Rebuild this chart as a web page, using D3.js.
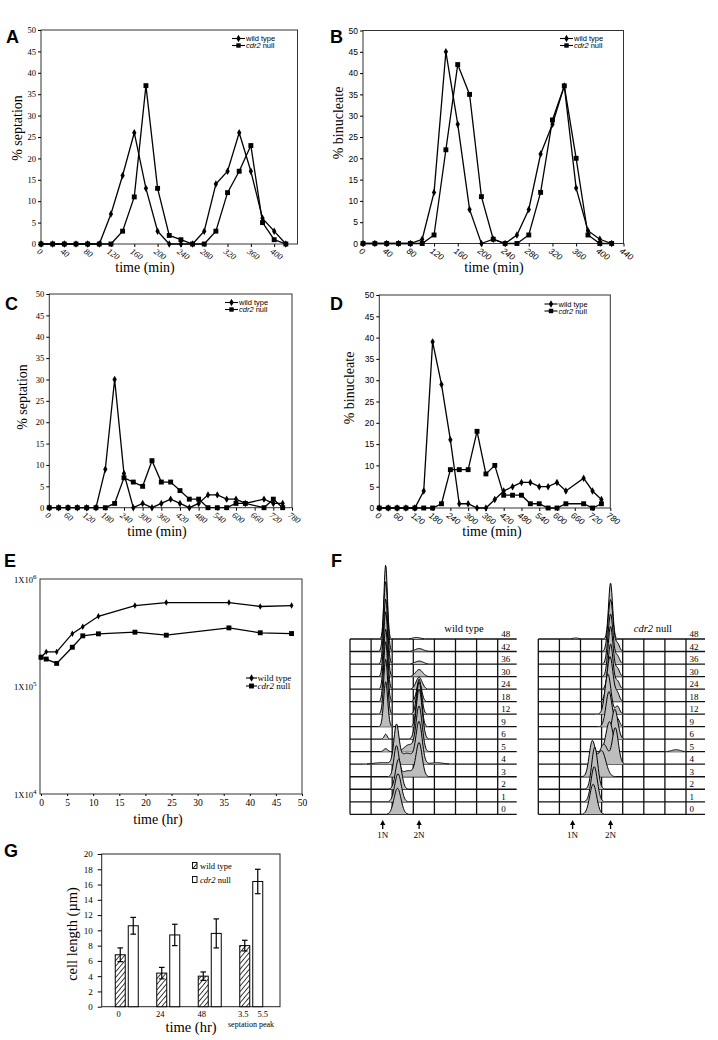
<!DOCTYPE html>
<html><head><meta charset="utf-8">
<script src="https://cdn.jsdelivr.net/npm/d3@7"></script>
<style>body{margin:0;background:#fff}svg{display:block}</style>
</head><body>
<svg id="c" width="718" height="1040"></svg>
<script>
// ---------------- DATA ----------------
const timeAB = [0,20,40,60,80,100,120,140,160,180,200,220,240,260,280,300,320,340,360,380,400,420];
const septA_wt  = [0,0,0,0,0,0,7,16,26,13,3,0,0,0,3,14,17,26,17,6,3,0];
const septA_cdr = [0,0,0,0,0,0,0,3,11,37,13,2,1,0,0,3,12,17,23,5,1,0];
const binB_wt   = [0,0,0,0,0,1,12,45,28,8,0,1,0,2,8,21,28,37,13,3,1,0];
const binB_cdr  = [0,0,0,0,0,0,2,22,42,35,11,1,0,0,2,12,29,37,20,2,0,0];
const ticksA = [0,40,80,120,160,200,240,280,320,360,400];
const ticksB = [0,40,80,120,160,200,240,280,320,360,400,440];

const timeCD = [0,30,60,90,120,150,180,210,240,270,300,330,360,390,420,450,480,510,540,570,600,630,690,720,750];
const septC_wt  = [0,0,0,0,0,0,9,30,8,0,1,0,1,2,1,0,1,3,3,2,2,1,2,1,1];
const septC_cdr = [0,0,0,0,0,0,0,1,7,6,5,11,6,6,4,2,2,0,0,0,1,1,0,2,0];
const binD_wt   = [0,0,0,0,0,4,39,29,16,1,1,0,0,2,4,5,6,6,5,5,6,4,7,4,2];
const binD_cdr  = [0,0,0,0,0,0,0,1,9,9,9,18,8,10,3,3,3,1,1,0,0,1,1,0,1];
const ticksCD = [0,60,120,180,240,300,360,420,480,540,600,660,720,780];
const pctTicks = [0,5,10,15,20,25,30,35,40,45,50];

const timeE = [0,1,3,6,8,11,18,24,36,42,48];
const cellsE_wt  = [1.87e5,2.1e5,2.1e5,3.1e5,3.6e5,4.5e5,5.66e5,6.04e5,6.04e5,5.55e5,5.66e5];
const cellsE_cdr = [1.87e5,1.8e5,1.64e5,2.32e5,2.96e5,3.09e5,3.2e5,3.0e5,3.51e5,3.16e5,3.11e5];
const ticksE_x = [0,5,10,15,20,25,30,35,40,45,50];
const ticksE_y = [1e4,1e5,1e6];

// F: flow cytometry rows (bottom to top); peaks = [channel, counts, spread]
const fRowLabels = ["0","1","2","3","4","5","6","9","12","18","24","30","36","42","48"];
const fWildPeaks = [
  [[90,26,6.6]],
  [[91,28,6.1]],
  [[92,30,5.7]],
  [[88,30,4.7],[131,33,5.7],[110,6,12]],
  [[88,36,4.7],[131,40,5.7],[108,11,14],[60,1.5,15],[165,1.5,12]],
  [[67.6,3,3.8],[131,45,5.7],[112,7,9]],
  [[67.6,5,2.8],[131,50,5.7]],
  [[67.6,45,3.8],[131,45,4.7]],
  [[67.6,55,3.8],[131,35,4.7]],
  [[67.6,60,3.8],[131,20,4.7]],
  [[67.6,60,3.8],[131,12,5.7]],
  [[67.6,65,3.8],[131,7,6.6]],
  [[67.6,65,3.8],[131,3,7.6]],
  [[67.6,70,3.8],[131,3,7.6]],
  [[67.6,74,3.2],[126,1.5,7.6]]
];
const fNullPeaks = [
  [[104,30,6.6]],
  [[106,35,6]],
  [[107,42,5.7]],
  [[102,34,5.7],[120,26,8]],
  [[124,20,8],[146,36,5.7]],
  [[135,30,6.6],[261,2,8]],
  [[145,30,5.7]],
  [[134,35,5.7],[150,8,4]],
  [[132,40,5.7],[150,8,4]],
  [[136,45,5.7],[150,8,4]],
  [[137,45,4.7],[150,8,4]],
  [[137,50,4.7],[150,8,4]],
  [[137,50,4.7],[150,8,4]],
  [[137,52,4.7],[150,8,4]],
  [[137,56,3.8],[71,1,6]]
];
const fWildMarks = [["1N",62],["2N",131]];
const fNullMarks = [["1N",65],["2N",137]];

// G: cell length
const gCats = ["0","24","48","peak"];
const gWt = [6.8,4.4,4.0,8.0];
const gWtErr = [0.9,0.75,0.55,0.7];
const gCdr = [10.6,9.4,9.6,16.4];
const gCdrErr = [1.1,1.4,1.9,1.6];
const gWtLabels = ["0","24","48","3.5"];
const gCdrLabels = ["","","","5.5"];
const gTicks = [0,2,4,6,8,10,12,14,16,18,20];

// ---------------- DRAW ----------------
const SERIF = "'Liberation Serif','Times New Roman',serif";
const SANS = "'Liberation Sans',Arial,sans-serif";
const svg = d3.select('#c');
svg.append('rect').attr('width',718).attr('height',1040).attr('fill','#fff');

function letter(t,x,y){
  svg.append('text').attr('x',x).attr('y',y).text(t)
    .style('font-family',SANS).style('font-weight','bold').style('font-size','18px');
}
letter('A',6,43); letter('B',330,43); letter('C',5,310); letter('D',330,310);
letter('E',4,567); letter('F',331,567); letter('G',4,857);

const diamond = d3.symbol().type(d3.symbolDiamond).size(16)();
const square = d3.symbol().type(d3.symbolSquare).size(24)();

function legendAD(g,lx,ly,font){
  const rows=[{m:diamond,t:'wild type',it:false},{m:square,t:'null',it:true}];
  rows.forEach((r,i)=>{
    const yy=ly+i*7;
    g.append('line').attr('x1',lx).attr('x2',lx+13).attr('y1',yy).attr('y2',yy).attr('stroke','#000').attr('stroke-width',1.1);
    g.append('path').attr('d',r.m).attr('transform',`translate(${lx+6.5},${yy})${i==0?'':' scale(0.9)'}`);
    const t=g.append('text').attr('x',lx+14).attr('y',yy+2.6).style('font-family',font).style('font-size','7.5px');
    if(r.it){t.append('tspan').style('font-style','italic').text('cdr2');t.append('tspan').text(' null');}
    else t.text(r.t);
  });
}

function linePanel(o){
  const g=svg.append('g');
  const x=d3.scaleLinear().domain([0,o.xmax]).range([o.x0,o.x1]);
  const y=d3.scaleLinear().domain([0,50]).range([o.y1,o.y0]);
  g.append('rect').attr('x',o.x0).attr('y',o.y0).attr('width',o.x1-o.x0).attr('height',o.y1-o.y0)
    .attr('fill','none').attr('stroke','#333').attr('stroke-width',1);
  const ya=g.append('g').attr('transform',`translate(${o.x0},0)`)
    .call(d3.axisLeft(y).tickValues(pctTicks).tickSize(3).tickPadding(2));
  ya.select('.domain').remove();
  ya.selectAll('text').style('font-family',o.tickFont).style('font-size','8.5px');
  const xa=g.append('g').attr('transform',`translate(0,${o.y1})`)
    .call(d3.axisBottom(x).tickValues(o.xticks).tickSize(3));
  xa.select('.domain').remove();
  xa.selectAll('text').attr('x',1).attr('y',4).attr('dy','0.71em')
    .attr('transform','rotate(35)').style('text-anchor','start')
    .style('font-family',o.tickFont).style('font-size','8.5px').style('font-style','italic');
  const series=[{v:o.wt,m:diamond},{v:o.cdr,m:square}];
  series.forEach(s=>{
    const pts=o.times.map((t,i)=>[t,s.v[i]]);
    g.append('path').attr('d',d3.line().x(d=>x(d[0])).y(d=>y(d[1]))(pts))
      .attr('fill','none').attr('stroke','#000').attr('stroke-width',1.3);
    g.selectAll(null).data(pts).enter().append('path').attr('d',s.m)
      .attr('transform',d=>`translate(${x(d[0])},${y(d[1])})`).attr('fill','#000');
  });
  legendAD(g,o.legX,o.legY,SANS);
  g.append('text').attr('transform',`translate(${o.ylx},${o.yly}) rotate(-90)`).attr('dy','0.35em')
    .attr('text-anchor','middle').text(o.ylabel).style('font-family',SERIF).style('font-size','14px');
  g.append('text').attr('x',o.xlx).attr('y',o.xly).attr('text-anchor','middle').text('time (min)')
    .style('font-family',SERIF).style('font-size','14px');
}

linePanel({x0:41,x1:297.5,y0:30,y1:244,xmax:440,xticks:ticksA,times:timeAB,wt:septA_wt,cdr:septA_cdr,
  tickFont:SERIF,legX:232,legY:38.5,ylabel:'% septation',ylx:17.5,yly:128,xlx:145,xly:272});
linePanel({x0:363,x1:623.5,y0:30.5,y1:243.5,xmax:440,xticks:ticksB,times:timeAB,wt:binB_wt,cdr:binB_cdr,
  tickFont:SANS,legX:560,legY:38.5,ylabel:'% binucleate',ylx:338,yly:123,xlx:494,xly:272});
linePanel({x0:49.3,x1:292,y0:294,y1:507.7,xmax:780,xticks:ticksCD,times:timeCD,wt:septC_wt,cdr:septC_cdr,
  tickFont:SERIF,legX:225,legY:302.5,ylabel:'% septation',ylx:22.5,yly:397,xlx:157,xly:536});
linePanel({x0:379.3,x1:610.3,y0:295,y1:508,xmax:780,xticks:ticksCD,times:timeCD,wt:binD_wt,cdr:binD_cdr,
  tickFont:SANS,legX:544.5,legY:304,ylabel:'% binucleate',ylx:349,yly:388,xlx:492,xly:536});

// ---- E ----
(function(){
  const g=svg.append('g');
  const x=d3.scaleLinear().domain([0,50]).range([41,302]);
  const y=d3.scaleLog().domain([1e4,1e6]).range([794,579]);
  g.append('rect').attr('x',40).attr('y',579).attr('width',262).attr('height',215)
    .attr('fill','none').attr('stroke','#333').attr('stroke-width',1);
  const xa=g.append('g').attr('transform','translate(0,794)').call(d3.axisBottom(x).tickValues(ticksE_x).tickSize(2).tickPadding(3));
  xa.select('.domain').remove();
  xa.selectAll('text').style('font-family',SERIF).style('font-size','9.5px');
  ticksE_y.forEach(v=>{
    const t=g.append('text').attr('x',36.5).attr('y',y(v)+3.5).attr('text-anchor','end')
      .style('font-family',SERIF).style('font-size','8.5px');
    t.append('tspan').text('1X10');
    t.append('tspan').attr('dy',-4).style('font-size','7px').text(String(Math.round(Math.log10(v))));
  });
  [{v:cellsE_wt,m:d3.symbol().type(d3.symbolDiamond).size(12)()},{v:cellsE_cdr,m:square}].forEach(s=>{
    const pts=timeE.map((t,i)=>[t,s.v[i]]);
    g.append('path').attr('d',d3.line().x(d=>x(d[0])).y(d=>y(d[1]))(pts))
      .attr('fill','none').attr('stroke','#000').attr('stroke-width',1.3);
    g.selectAll(null).data(pts).enter().append('path').attr('d',s.m)
      .attr('transform',d=>`translate(${x(d[0])},${y(d[1])})`);
  });
  const lx=246, ly=678;
  [{m:diamond,it:false},{m:square,it:true}].forEach((r,i)=>{
    const yy=ly+i*8;
    g.append('line').attr('x1',lx).attr('x2',lx+11).attr('y1',yy).attr('y2',yy).attr('stroke','#000').attr('stroke-width',1.1);
    g.append('path').attr('d',r.m).attr('transform',`translate(${lx+5.5},${yy})`);
    const t=g.append('text').attr('x',lx+11.5).attr('y',yy+3).style('font-family',SERIF).style('font-size','9px');
    if(r.it){t.append('tspan').style('font-style','italic').text('cdr2');t.append('tspan').text(' null');}
    else t.text('wild type');
  });
  g.append('text').attr('x',158).attr('y',824).attr('text-anchor','middle').text('time (hr)')
    .style('font-family',SERIF).style('font-size','14px');
})();

// ---- F ----
function flowPanel(x0,peaks,marks,title,italicPart){
  const g=svg.append('g');
  const colW=21.1, nCol=7, top=639, bottom=814.3;
  const xc=d3.scaleLinear().domain([0,280]).range([x0,x0+nCol*colW]);
  const rowY=d3.scaleLinear().domain([0,fRowLabels.length-1]).range([bottom,top]);
  const hY=d3.scaleLinear().domain([0,100]).range([0,100]);
  const right=x0+nCol*colW+19;
  for(let i=0;i<=nCol;i++){
    g.append('line').attr('x1',xc(i*40)).attr('x2',xc(i*40)).attr('y1',top).attr('y2',bottom)
      .attr('stroke','#111').attr('stroke-width',1.3);
  }
  fRowLabels.forEach((lab,i)=>{
    const yy=rowY(i);
    g.append('line').attr('x1',x0).attr('x2',right).attr('y1',yy).attr('y2',yy)
      .attr('stroke','#111').attr('stroke-width',1.3);
    g.append('text').attr('x',xc(280)+3.5).attr('y',yy-2).text(lab)
      .style('font-family',SERIF).style('font-size','9px');
  });
  const samples=d3.range(x0,x0+nCol*colW,0.5);
  for(let i=peaks.length-1;i>=0;i--){
    const base=rowY(i);
    const prof=samples.map(px=>{
      const ch=xc.invert(px);
      let v=0; peaks[i].forEach(p=>{v+=p[1]*Math.exp(-0.5*Math.pow((ch-p[0])/p[2],2));});
      return [px,v];
    });
    g.append('path').attr('d',d3.area().x(d=>d[0]).y0(base).y1(d=>base-hY(d[1]))(prof))
      .attr('fill','#bdbdbd').attr('stroke','none');
    g.append('path').attr('d',d3.line().defined(d=>d[1]>0.25).x(d=>d[0]).y(d=>base-hY(d[1]))(prof))
      .attr('fill','none').attr('stroke','#000').attr('stroke-width',1);
  }
  marks.forEach(m=>{
    const ax=xc(m[1]);
    g.append('path').attr('d',`M${ax},820 L${ax-2.6},825 L${ax+2.6},825 Z`).attr('fill','#000');
    g.append('line').attr('x1',ax).attr('x2',ax).attr('y1',824).attr('y2',829).attr('stroke','#000').attr('stroke-width',1.3);
    g.append('text').attr('x',ax).attr('y',837.5).attr('text-anchor','middle').text(m[0])
      .style('font-family',SERIF).style('font-size','9px');
  });
  const t=g.append('text').attr('x',x0+nCol*colW-14).attr('y',632).attr('text-anchor','end')
    .style('font-family',SERIF).style('font-size','10.5px');
  if(italicPart){t.append('tspan').style('font-style','italic').text(italicPart);t.append('tspan').text(title);}
  else t.text(title);
}
flowPanel(350,fWildPeaks,fWildMarks,'wild type',null);
flowPanel(538.3,fNullPeaks,fNullMarks,' null','cdr2');

// ---- G ----
(function(){
  const g=svg.append('g');
  const defs=svg.append('defs');
  const pat=defs.append('pattern').attr('id','hatch').attr('patternUnits','userSpaceOnUse')
    .attr('width',3.6).attr('height',3.6).attr('patternTransform','rotate(40)');
  pat.append('rect').attr('width',3.6).attr('height',3.6).attr('fill','#fff');
  pat.append('line').attr('x1',0).attr('x2',0).attr('y1',0).attr('y2',3.6).attr('stroke','#000').attr('stroke-width',1.5);
  const y=d3.scaleLinear().domain([0,20]).range([1006.7,854]);
  const xb=d3.scaleBand().domain(gCats).range([106,272]);
  const xi=d3.scaleBand().domain(['wt','cdr']).range([-11.5,11.5]).paddingInner(0.2308);
  g.append('rect').attr('x',101.7).attr('y',854).attr('width',178.3).attr('height',152.7)
    .attr('fill','none').attr('stroke','#222').attr('stroke-width',1);
  const ya=g.append('g').attr('transform','translate(101.7,0)').call(d3.axisLeft(y).tickValues(gTicks).tickSize(4).tickPadding(5));
  ya.select('.domain').remove();
  ya.selectAll('text').style('font-family',SERIF).style('font-size','9px');
  const series=[{k:'wt',v:gWt,e:gWtErr,fill:'url(#hatch)',lab:gWtLabels,off:-1.5},{k:'cdr',v:gCdr,e:gCdrErr,fill:'#fff',lab:gCdrLabels,off:5}];
  series.forEach(s=>{
    gCats.forEach((c,i)=>{
      const bx=xb(c)+xb.bandwidth()/2+xi(s.k), bw=xi.bandwidth();
      g.append('rect').attr('x',bx).attr('y',y(s.v[i])).attr('width',bw).attr('height',y(0)-y(s.v[i]))
        .attr('fill',s.fill).attr('stroke','#000').attr('stroke-width',1);
      const cx=bx+bw/2;
      g.append('line').attr('x1',cx).attr('x2',cx).attr('y1',y(s.v[i]-s.e[i])).attr('y2',y(s.v[i]+s.e[i])).attr('stroke','#000').attr('stroke-width',1.2);
      [s.v[i]-s.e[i],s.v[i]+s.e[i]].forEach(v=>{
        g.append('line').attr('x1',cx-2.8).attr('x2',cx+2.8).attr('y1',y(v)).attr('y2',y(v)).attr('stroke','#000').attr('stroke-width',1.2);
      });
      if(s.lab[i]) g.append('text').attr('x',cx+s.off).attr('y',1016.5).attr('text-anchor','middle').text(s.lab[i])
        .style('font-family',SERIF).style('font-size','8.5px');
    });
  });
  g.append('text').attr('x',251).attr('y',1026.5).attr('text-anchor','middle').text('septation peak')
    .style('font-family',SERIF).style('font-size','8px');
  g.append('text').attr('x',191).attr('y',1032).attr('text-anchor','middle').text('time (hr)')
    .style('font-family',SERIF).style('font-size','14.5px');
  g.append('text').attr('transform','translate(72,934) rotate(-90)').attr('dy','0.35em').attr('text-anchor','middle')
    .text('cell length (\u00b5m)').style('font-family',SERIF).style('font-size','14.5px');
  g.append('rect').attr('x',192.5).attr('y',862.5).attr('width',4.5).attr('height',6).attr('fill','url(#hatch)').attr('stroke','#000').attr('stroke-width',0.9);
  g.append('text').attr('x',200).attr('y',869).text('wild type').style('font-family',SERIF).style('font-size','8.5px');
  g.append('rect').attr('x',192.5).attr('y',876.5).attr('width',4.5).attr('height',6).attr('fill','#fff').attr('stroke','#000').attr('stroke-width',0.9);
  const t=g.append('text').attr('x',200).attr('y',883).style('font-family',SERIF).style('font-size','8.5px');
  t.append('tspan').style('font-style','italic').text('cdr2');
  t.append('tspan').text(' null');
})();
</script>
</body></html>
